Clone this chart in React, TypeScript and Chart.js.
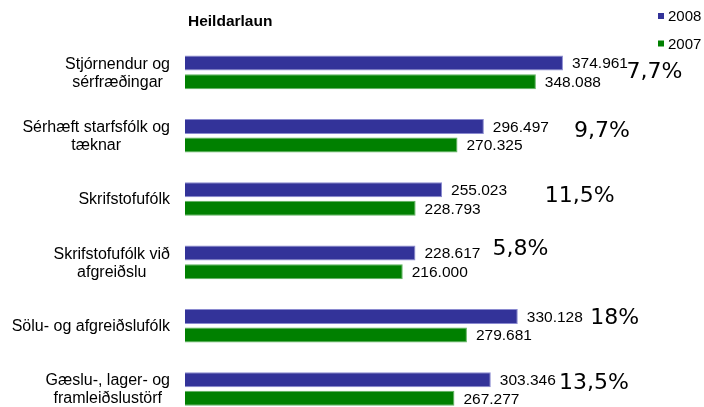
import React, { useEffect, useRef } from "react";
import { Chart, registerables } from "chart.js";

Chart.register(...registerables);

const categories: string[][] = [
  ["Stjórnendur og", "sérfræðingar"],
  ["Sérhæft starfsfólk og", "tæknar"],
  ["Skrifstofufólk"],
  ["Skrifstofufólk við", "afgreiðslu"],
  ["Sölu- og afgreiðslufólk"],
  ["Gæslu-, lager- og", "framleiðslustörf"],
];
const values2008 = [374961, 296497, 255023, 228617, 330128, 303346];
const values2007 = [348088, 270325, 228793, 216000, 279681, 267277];
const pctLabels = ["7,7%", "9,7%", "11,5%", "5,8%", "18%", "13,5%"];
// x position of each percentage label, in value units
const pctX = [438000, 386000, 357000, 305000, 402000, 371000];
// vertical shift of each percentage label, as a fraction of the category band
const pctDy = [0, -0.07, -0.05, -0.2, -0.12, -0.09];
const seriesNames = ["2008", "2007"];
const seriesColors = ["#333399", "#008000"];
const seriesBorders = ["#8a8ad0", "#5fb35f"];
const titleText = "Heildarlaun";

const fmt = (v: number) => {
  const s = String(v);
  return s.replace(/\B(?=(\d{3})+(?!\d))/g, ".");
};

export default function App() {
  const ref = useRef<HTMLCanvasElement | null>(null);

  useEffect(() => {
    if (!ref.current) return;
    const labelPlugin = {
      id: "customLabels",
      afterDatasetsDraw(chart: any) {
        const ctx = chart.ctx;
        const yScale = chart.scales.y;
        const xScale = chart.scales.x;
        ctx.save();
        // value labels
        ctx.font = '15.5px "Liberation Sans", Arial, sans-serif';
        ctx.fillStyle = "#000";
        ctx.textBaseline = "middle";
        ctx.textAlign = "left";
        chart.data.datasets.forEach((ds: any, di: number) => {
          const meta = chart.getDatasetMeta(di);
          meta.data.forEach((bar: any, i: number) => {
            ctx.fillText(fmt(ds.data[i]), bar.x + 9, bar.y + 1);
          });
        });
        // category labels
        ctx.font = '16px "Liberation Sans", Arial, sans-serif';
        ctx.textAlign = "center";
        const band = yScale.getPixelForValue(1) - yScale.getPixelForValue(0);
        categories.forEach((lines, i) => {
          const cy = yScale.getPixelForValue(i);
          const widest = Math.max(...lines.map((l) => ctx.measureText(l).width));
          const cx = 170 - widest / 2;
          const lh = 18;
          lines.forEach((l, li) => {
            ctx.fillText(l, cx, cy + (li - (lines.length - 1) / 2) * lh + 1);
          });
        });
        // percentage labels
        ctx.font = '22px "DejaVu Sans", Verdana, sans-serif';
        ctx.textAlign = "left";
        pctLabels.forEach((t, i) => {
          const x = xScale.getPixelForValue(pctX[i]);
          const y = yScale.getPixelForValue(i) + pctDy[i] * band;
          ctx.fillText(t, x, y);
        });
        // title
        ctx.font = 'bold 15.5px "Liberation Sans", Arial, sans-serif';
        ctx.fillText(titleText, 188, 22);
        // legend
        ctx.font = '15px "Liberation Sans", Arial, sans-serif';
        seriesNames.forEach((n, i) => {
          const y = 16 + i * 27.5;
          ctx.fillStyle = seriesColors[i];
          ctx.fillRect(658, y - 3, 6, 6);
          ctx.fillStyle = "#000";
          ctx.fillText(n, 668, y + 1);
        });
        ctx.restore();
      },
    };

    const chart = new Chart(ref.current, {
      type: "bar",
      data: {
        labels: categories.map((c) => c.join(" ")),
        datasets: seriesNames.map((n, i) => ({
          label: n,
          data: i === 0 ? values2008 : values2007,
          backgroundColor: seriesColors[i],
          borderColor: seriesBorders[i],
          borderWidth: 1,
          categoryPercentage: 0.585,
          barPercentage: 0.81,
        })),
      },
      options: {
        indexAxis: "y",
        responsive: false,
        animation: false,
        devicePixelRatio: 1,
        layout: { padding: { left: 185, top: 40.7, right: 15, bottom: 9.3 } },
        plugins: { legend: { display: false }, tooltip: { enabled: false } },
        scales: {
          x: { display: false, min: 0, max: 500000 },
          y: { display: false },
        },
      },
      plugins: [labelPlugin],
    });
    return () => chart.destroy();
  }, []);

  return (
    <div
      style={{
        position: "absolute",
        left: 0,
        top: 0,
        width: 704,
        height: 407,
        overflow: "hidden",
        background: "#fff",
      }}
    >
      <canvas ref={ref} width={704} height={430} style={{ width: 704, height: 430, display: "block" }} />
    </div>
  );
}
